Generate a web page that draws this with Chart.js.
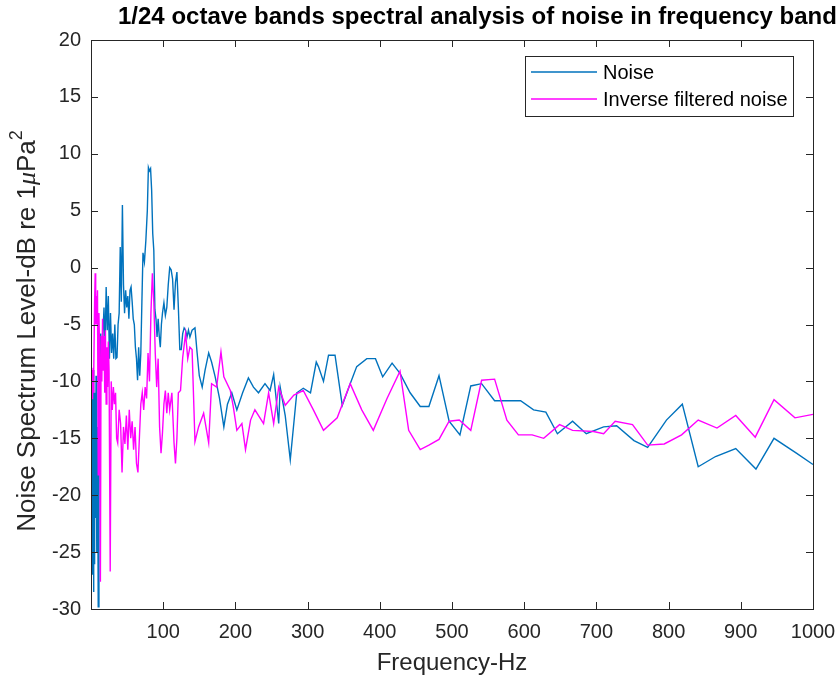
<!DOCTYPE html>
<html>
<head>
<meta charset="utf-8">
<script src="https://cdn.jsdelivr.net/npm/chart.js@4.4.1/dist/chart.umd.min.js"></script>
<style>
  body { margin: 0; background: #fff; }
  canvas { display: block; }
</style>
</head>
<body>
<canvas id="spectrumChart" width="837" height="679"></canvas>
<script>
// 1/24 octave band levels (Hz, dB re 1 uPa^2)
var noiseFreq = [1, 1.5, 2, 2.5, 3, 3.5, 4, 4.5, 5, 6, 7, 8, 9, 10, 11, 12, 13.5, 15, 16.5, 18,
  19.5, 21, 22.5, 24, 25.5, 27, 28.5, 30, 31.5, 33, 34.5, 36, 37.5, 39, 40.5, 42, 43.5, 45, 46.5, 48,
  49.5, 51, 52.5, 54, 55.5, 57, 58.5, 60, 61.5, 63, 64.5, 66, 67.5, 69, 70.5, 72, 74, 76, 78, 79.5,
  81, 82.5, 84, 85.5, 87, 88.5, 90, 91.5, 93, 94.5, 96, 97.5, 99, 101, 103, 105, 107, 109, 111, 113,
  115, 117, 119, 121, 123, 125, 127, 129, 131, 133, 135, 137, 140, 144, 147, 150, 154, 158, 163, 167,
  172, 178, 184, 189, 195, 202, 210, 218, 225, 232, 241, 248, 253, 260, 262, 269, 276, 285, 294, 304,
  312, 315, 322, 329, 338, 348, 359, 368, 382, 394, 404, 417, 428, 442, 456, 468, 482, 496, 511, 526,
  541, 559, 576, 595, 613, 630, 646, 667, 686, 710, 728, 752, 771, 797, 819, 841, 865, 893, 921, 946,
  977, 1000];
var noiseLevel = [-10, -24, -12, -27, -9, -28.5, -14, -26, -11, -22, -9.5, -25, -14, -29.8, -20, -9, -5.8, -8.5, -6, -3.5,
  -7, -1.7, -5.5, -2.5, -8, -4, -7.5, -5.8, -8, -5, -8, -7.9, -5, -4, 1.8, -3, 5.5, -1.5, -4, -2,
  -3.5, -2.5, -4.5, -2, -1.7, -3, -4.5, -5, -7, -8, -9.9, -7, -9.5, -7.5, -3, 1.3, 0.5, 2.4, 5, 8.8,
  8.5, 8.7, 6.8, 3, 1.5, -3.7, -4.5, -6.1, -4.5, -6, -7, -5, -4, -3.1, -4.2, -3.5, -1.5, 0, -0.2, -1,
  -3.7, -1.3, -0.4, -3.5, -7.2, -7.2, -5.8, -5.3, -5.5, -6.1, -5.5, -6.1, -5.5, -5.3, -7.5, -9.5, -10.5, -9, -7.5, -8.3,
  -9.6, -11.5, -14, -12, -11, -12.5, -11, -9.7, -10.5, -11, -10.2, -10.8, -9.4, -13.7, -10.5, -13, -16.9, -11, -10.6, -11,
  -8.3, -8.7, -10, -7.7, -7.7, -12.1, -10.2, -8.7, -8, -8, -9.6, -8.4, -9.3, -11, -12.2, -12.2, -9.5, -13.5, -14.7, -10.4,
  -10.2, -11.7, -11.7, -11.7, -12.5, -12.7, -14.6, -13.5, -14.6, -14, -13.9, -15.2, -15.8, -13.4, -12, -17.5, -16.6, -15.9, -17.7, -15,
  -16.3, -17.3];

var inverseFreq = [1, 1.5, 2, 2.5, 3, 3.5, 4, 5, 5.8, 6.5, 7.5, 8, 9, 10, 11, 12, 13, 14, 15, 16,
  17, 18, 19, 20, 21, 22, 23, 24, 25, 26.6, 28, 29.5, 31, 32.5, 34, 35.5, 37, 39, 41, 43,
  45, 47, 49, 51, 53, 55, 57, 59, 61, 63, 65, 67, 69, 71, 73, 75, 77, 79, 81, 83,
  85, 87, 89, 91, 93, 95, 97, 99, 101, 103, 105, 107, 109, 112, 115, 117, 119, 121, 124, 127,
  131, 134, 137, 140, 144, 149, 156, 163, 167, 174, 180, 184, 193, 197, 202, 209, 214, 221, 227, 239,
  246, 253, 260, 269, 281, 294, 308, 322, 341, 359, 375, 391, 410, 428, 440, 456, 468, 482, 496, 510,
  526, 541, 559, 576, 592, 611, 627, 649, 667, 696, 710, 726, 750, 771, 794, 818, 841, 867, 893, 920,
  946, 975, 1000];
var inverseLevel = [-9.4, -11.5, -9, -10.5, -8.8, -11, -9.5, -3, -0.5, -5, -2.5, -5, -2, -18.2, -4, -8, -27.6, -6, -10, -4.5,
  -9, -6, -11, -5.5, -12, -7, -10.5, -6.5, -9, -26.7, -10, -12.5, -10.5, -12, -11, -15, -15.4, -12.5, -13.7, -18,
  -14, -15.5, -13, -16, -12.5, -15, -13.5, -16, -14, -17.2, -18, -15, -12, -11, -12.5, -10.5, -11.5, -7.5, -10, -4,
  -0.5, -3, -7.5, -10.5, -8, -14, -16.3, -14.5, -12, -10.8, -12.8, -11, -12.5, -11, -15.4, -17.2, -15, -11, -10.8, -7.9,
  -5.8, -8, -7, -7.2, -15.3, -14, -12.8, -15.4, -10.2, -10.5, -7.4, -9.6, -10.8, -12.2, -14.3, -13.7, -16, -13.4, -12.5, -13.7,
  -11, -13.7, -10.5, -12.1, -11.2, -10.8, -12.5, -14.3, -13.2, -10.2, -12.5, -14.3, -11.5, -9.1, -14.3, -16, -15.6, -15.1, -13.5, -13.4,
  -14.3, -9.9, -9.8, -13.4, -14.7, -14.7, -15, -13.8, -14.3, -14.4, -14.6, -13.5, -13.8, -15.6, -15.5, -14.7, -13.4, -14.1, -13, -14.9,
  -11.6, -13.2, -12.9];

var seriesLabels = ['Noise', 'Inverse filtered noise'];
var seriesColors = ['#0072BD', '#FF00FF'];
var xTicks = [100, 200, 300, 400, 500, 600, 700, 800, 900, 1000];
var yTicks = [-30, -25, -20, -15, -10, -5, 0, 5, 10, 15, 20];

var chartTitle = '1/24 octave bands spectral analysis of noise in frequency band';
var xTitle = 'Frequency-Hz';
var axisColor = '#262626';
var fontFamily = '"Liberation Sans", Arial, sans-serif';

function pairs(xs, ys) {
  return xs.map(function (x, i) { return { x: x, y: ys[i] }; });
}

// MATLAB-style box, inward ticks, titles and legend
var matlabFrame = {
  id: 'matlabFrame',
  afterDraw: function (chart) {
    var ctx = chart.ctx;
    var a = chart.chartArea;
    var xs = chart.scales.x, ys = chart.scales.y;
    var tl = 7;
    ctx.save();
    ctx.strokeStyle = axisColor;
    ctx.lineWidth = 1;
    ctx.strokeRect(Math.round(a.left) + 0.5, Math.round(a.top) + 0.5,
      Math.round(a.right - a.left), Math.round(a.bottom - a.top));
    ctx.beginPath();
    xTicks.forEach(function (v) {
      var px = Math.round(xs.getPixelForValue(v)) + 0.5;
      ctx.moveTo(px, a.bottom); ctx.lineTo(px, a.bottom - tl);
      ctx.moveTo(px, a.top); ctx.lineTo(px, a.top + tl);
    });
    yTicks.forEach(function (v) {
      var py = Math.round(ys.getPixelForValue(v)) + 0.5;
      ctx.moveTo(a.left, py); ctx.lineTo(a.left + tl, py);
      ctx.moveTo(a.right, py); ctx.lineTo(a.right - tl, py);
    });
    ctx.stroke();

    // title
    ctx.fillStyle = '#000';
    ctx.font = 'bold 24px ' + fontFamily;
    ctx.textBaseline = 'middle';
    ctx.textAlign = 'left';
    ctx.fillText(chartTitle, 118, 17);

    // x axis title
    ctx.fillStyle = axisColor;
    ctx.font = '24px ' + fontFamily;
    ctx.textAlign = 'center';
    ctx.fillText(xTitle, (a.left + a.right) / 2, 663);

    // y axis title with mu and superscript
    ctx.save();
    ctx.translate(28, 331);
    ctx.rotate(-Math.PI / 2);
    var parts = [
      { t: 'Noise Spectrum Level-dB re 1', f: '26px ' + fontFamily, dy: 0 },
      { t: '\u03bc', f: 'italic 26px "Liberation Serif", serif', dy: 0 },
      { t: 'Pa', f: '26px ' + fontFamily, dy: 0 },
      { t: '2', f: '18px ' + fontFamily, dy: -11 }
    ];
    var total = 0;
    parts.forEach(function (p) { ctx.font = p.f; p.w = ctx.measureText(p.t).width; total += p.w; });
    var cx = -total / 2;
    ctx.textAlign = 'left';
    parts.forEach(function (p) {
      ctx.font = p.f;
      ctx.fillText(p.t, cx, p.dy);
      cx += p.w;
    });
    ctx.restore();

    // legend
    var lx = 525.5, ly = 56.5, lw = 268, lh = 60;
    ctx.fillStyle = '#fff';
    ctx.fillRect(lx, ly, lw, lh);
    ctx.strokeStyle = axisColor;
    ctx.strokeRect(lx, ly, lw, lh);
    ctx.font = '20px ' + fontFamily;
    ctx.textAlign = 'left';
    seriesLabels.forEach(function (lab, i) {
      var y = 72 + i * 27;
      ctx.strokeStyle = seriesColors[i];
      ctx.lineWidth = 1.3;
      ctx.beginPath();
      ctx.moveTo(531, y); ctx.lineTo(597, y);
      ctx.stroke();
      ctx.fillStyle = '#000';
      ctx.fillText(lab, 603, y + 1);
    });
    ctx.restore();
  }
};

var ctx = document.getElementById('spectrumChart');

var spectrumChart = new Chart(ctx, {
  type: 'line',
  data: {
    datasets: [{
      label: seriesLabels[0],
      data: pairs(noiseFreq, noiseLevel),
      borderColor: seriesColors[0],
      borderWidth: 1.4,
      pointRadius: 0,
      order: 2
    }, {
      label: seriesLabels[1],
      data: pairs(inverseFreq, inverseLevel),
      borderColor: seriesColors[1],
      borderWidth: 1.4,
      pointRadius: 0,
      order: 1
    }]
  },
  options: {
    responsive: false,
    animation: false,
    layout: { padding: { left: 0, right: 24, top: 40, bottom: 0 } },
    plugins: {
      legend: { display: false },
      tooltip: { enabled: false }
    },
    scales: {
      x: {
        type: 'linear',
        min: 0,
        max: 1000,
        afterFit: function (s) { s.height = 70; s.paddingLeft = 0; s.paddingRight = 0; },
        afterBuildTicks: function (s) { s.ticks = xTicks.map(function (v) { return { value: v }; }); },
        grid: { display: false, drawTicks: false },
        border: { display: false },
        ticks: {
          color: axisColor, padding: 11, maxRotation: 0,
          font: { size: 20, family: fontFamily },
          callback: function (v) { return String(v); }
        }
      },
      y: {
        min: -30,
        max: 20,
        afterFit: function (s) { s.width = 91; s.paddingTop = 0; s.paddingBottom = 0; },
        afterBuildTicks: function (s) { s.ticks = yTicks.map(function (v) { return { value: v }; }); },
        grid: { display: false, drawTicks: false },
        border: { display: false },
        ticks: { color: axisColor, padding: 10, font: { size: 20, family: fontFamily } }
      }
    }
  },
  plugins: [matlabFrame]
});
</script>
</body>
</html>
